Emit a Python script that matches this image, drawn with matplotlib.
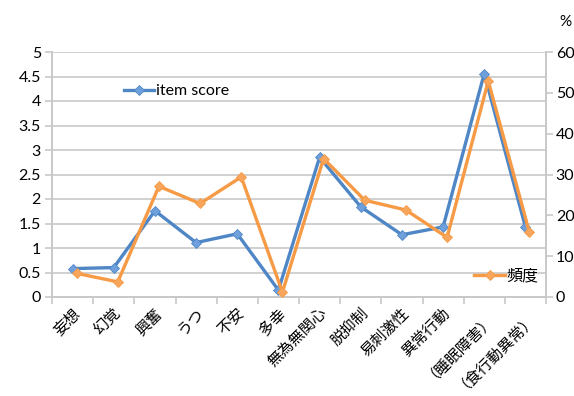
import matplotlib
matplotlib.use('Agg')
import matplotlib.pyplot as plt
import matplotlib.transforms as mtransforms
import numpy as np

plt.rcParams['font.family'] = ['Lato', 'Noto Sans CJK JP', 'DejaVu Sans']

categories = ['妄想', '幻覚', '興奮', 'うつ', '不安', '多幸', '無為無関心', '脱抑制',
              '易刺激性', '異常行動', '（睡眠障害）', '（食行動異常）']
item_score = [0.58, 0.60, 1.76, 1.11, 1.29, 0.14, 2.85, 1.84, 1.27, 1.43, 4.56, 1.43]
freq_pct = [5.8, 3.7, 27.1, 22.9, 29.4, 1.2, 33.9, 23.7, 21.3, 14.6, 52.9, 15.8]

blue = '#4f86c6'
orange = '#f79a45'
grid_c = '#c8c8c8'

fig = plt.figure(figsize=(5.74, 3.96), dpi=100)
ax = fig.add_axes([52 / 574, 99 / 396, 494 / 574, 245 / 396])
ax2 = ax.twinx()

x = np.arange(len(categories)) + 0.5

l1, = ax.plot(x, item_score, color=blue, lw=2.4, marker='D', ms=5.5,
              mfc='#6fa0dc', mec=blue, mew=0.6, label='item score', zorder=3)
# orange series sits a few pixels right of the blue one in the original
shift = mtransforms.offset_copy(ax2.transData, fig=fig, x=4, y=0, units='dots')
l2, = ax2.plot(x, freq_pct, color=orange, lw=2.4, marker='D', ms=5.5,
               mfc='#f8a65c', mec=orange, mew=0.6, label='頻度', transform=shift,
               zorder=3)

ax.set_xlim(0, len(categories))
ax.set_ylim(0, 5)
ax2.set_ylim(0, 60)

ax.set_yticks(np.arange(0, 5.01, 0.5))
ax.set_yticklabels(['0', '0.5', '1', '1.5', '2', '2.5', '3', '3.5', '4', '4.5', '5'])
ax2.set_yticks(np.arange(0, 61, 10))
ax.yaxis.grid(True, color=grid_c, lw=1.2)
ax.set_axisbelow(True)

ax.set_xticks(np.arange(0, len(categories) + 1), minor=False)
ax.set_xticklabels([])
ax.set_xticks(x, minor=True)
ax.set_xticklabels(categories, minor=True, rotation=45, ha='right', va='center',
                   rotation_mode='anchor', fontsize=11)
ax.tick_params(axis='x', which='minor', length=0, pad=10)
ax.tick_params(axis='x', which='major', length=5, color=grid_c, width=1.2)
ax.tick_params(axis='y', length=5, color=grid_c, width=1.2, labelsize=11.5, pad=3)
ax2.tick_params(axis='y', length=5, color=grid_c, width=1.2, labelsize=11.5, pad=2)

# nudge category labels a little to the right
nudge = mtransforms.ScaledTranslation(5 / 100, 0, fig.dpi_scale_trans)
for lab in ax.get_xticklabels(minor=True):
    lab.set_transform(lab.get_transform() + nudge)

for a in (ax, ax2):
    a.spines['top'].set_visible(False)
    for s in ('left', 'right', 'bottom'):
        a.spines[s].set_color(grid_c)
        a.spines[s].set_linewidth(1.2)

ax.legend(handles=[l1], loc='center left', bbox_to_anchor=(0.146, 0.84),
          frameon=False, fontsize=11.5, handlelength=1.9, handletextpad=0.1,
          borderpad=0, borderaxespad=0)
ax2.legend(handles=[l2], loc='center left', bbox_to_anchor=(0.855, 0.085),
           frameon=False, fontsize=11.5, handlelength=1.9, handletextpad=0.1,
           borderpad=0, borderaxespad=0)

fig.text(565 / 574, 1 - 22 / 396, '%', fontsize=11, ha='center', va='center')

fig.savefig('out.png', dpi=100)
